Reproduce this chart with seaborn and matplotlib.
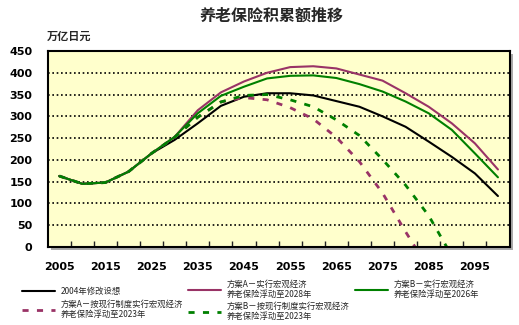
import matplotlib
matplotlib.use("Agg")
import matplotlib.pyplot as plt
import seaborn as sns
import pandas as pd
from matplotlib.ticker import FixedLocator
from matplotlib.patches import Rectangle

# ---- data ----
years = [2005, 2010, 2015, 2020, 2025, 2030, 2035, 2040, 2045, 2050,
         2055, 2060, 2065, 2070, 2075, 2080, 2085, 2090, 2095, 2100]
base_2004 = [163, 145, 148, 173, 215, 246, 284, 324, 345, 353,
             353, 348, 335, 322, 300, 276, 242, 207, 169, 117]
plan_a = [163, 145, 148, 173, 215, 253, 314, 355, 380, 400,
          413, 415, 410, 396, 382, 353, 322, 284, 238, 178]
plan_b = [163, 145, 148, 173, 215, 253, 307, 347, 368, 387,
          393, 394, 388, 374, 357, 334, 307, 269, 215, 160]
plan_a_cur = [163, 145, 148, 173, 215, 252, 298, 333, 343, 338,
              320, 294, 252, 196, 124, 35, -50, None, None, None]
plan_b_cur = [163, 145, 148, 173, 215, 252, 298, 333, 348, 350,
              338, 322, 292, 256, 201, 142, 72, -20, None, None]

labels = ["2004年修改设想",
          "方案A－实行宏观经济\n养老保险浮动至2028年",
          "方案B－实行宏观经济\n养老保险浮动至2026年",
          "方案A－按现行制度实行宏观经济\n养老保险浮动至2023年",
          "方案B－按现行制度实行宏观经济\n养老保险浮动至2023年"]
series = [base_2004, plan_a, plan_b, plan_a_cur, plan_b_cur]
colors = ["#000000", "#993366", "#008000", "#993366", "#008000"]
dashed = [False, False, False, True, True]
y_ticks = [0, 50, 100, 150, 200, 250, 300, 350, 400, 450]
x_labels = [2005, 2015, 2025, 2035, 2045, 2055, 2065, 2075, 2085, 2095]

title = "养老保险积累额推移"
unit = "万亿日元"

sns.set_theme(style="white")
plt.rcParams["font.family"] = ["Noto Sans CJK SC", "DejaVu Sans"]

fig = plt.figure(figsize=(5.19, 3.25), dpi=100)
L, R, T, B = 47.7, 509.5, 51, 247
ax = fig.add_axes([L / 519, 1 - B / 325, (R - L) / 519, (B - T) / 325])
ax.set_facecolor("#FFFFCC")

# drop shadow
fig.patches.append(Rectangle(((L + 3) / 519, 1 - (B + 3) / 325), (R - L) / 519,
                             (B - T) / 325, transform=fig.transFigure,
                             facecolor="#AAAAAA", edgecolor="none", zorder=-1))

handles = []
for vals, lab, col, dsh in zip(series, labels, colors, dashed):
    df = pd.DataFrame({"year": years, "value": vals}).dropna()
    n = len(ax.lines)
    sns.lineplot(data=df, x="year", y="value", ax=ax, color=col,
                 linewidth=2.0 if dsh else 1.5, legend=False)
    ln = ax.lines[n]
    if dsh:
        ln.set_dashes((2.2, 3.0))
    ln.set_label(lab)
    handles.append(ln)

ax.set_xlim(2002.5, 2102.5)
ax.set_ylim(0, 450)

# grid
for v in y_ticks[1:-1]:
    ax.axhline(v, color="black", linewidth=1.2, linestyle=(0, (1, 1.6)), zorder=0.5)

ax.set_xticks(x_labels)
ax.set_xticklabels([str(x) for x in x_labels])
ax.xaxis.set_minor_locator(FixedLocator([2007.5 + 5 * i for i in range(19)]))
ax.tick_params(axis="x", which="major", length=0, pad=11)
ax.tick_params(axis="x", which="minor", direction="in", length=4, width=1,
               color="#222222", bottom=True)
ax.set_yticks(y_ticks)
ax.tick_params(axis="y", length=0, pad=11)
for t in ax.get_xticklabels() + ax.get_yticklabels():
    t.set_fontfamily("DejaVu Sans")
    t.set_fontweight("bold")
    t.set_fontsize(8)
    t.set_color("black")
ax.set_xlabel("")
ax.set_ylabel("")
for s in ax.spines.values():
    s.set_visible(True)
    s.set_color("black")
    s.set_linewidth(1.5)

fig.text(272 / 519, 1 - 16 / 325, title, ha="center", va="center",
         fontsize=11.5, fontweight="bold")
fig.text(47 / 519, 1 - 36 / 325, unit, ha="left", va="center",
         fontsize=8, fontweight="bold")

leg_kw = dict(frameon=False, fontsize=6, handlelength=4.0, handletextpad=0.6,
              borderpad=0, borderaxespad=0, loc="upper left")
fig.legend([handles[0], handles[3]], [labels[0], labels[3]],
           bbox_to_anchor=(22 / 519, 1 - 287 / 325), labelspacing=0.45, **leg_kw)
fig.legend([handles[1], handles[4]], [labels[1], labels[4]],
           bbox_to_anchor=(188 / 519, 1 - 280 / 325), labelspacing=0.25, **leg_kw)
fig.legend([handles[2]], [labels[2]],
           bbox_to_anchor=(355 / 519, 1 - 280 / 325), **leg_kw)

fig.savefig("out.png", dpi=100, facecolor="white")
